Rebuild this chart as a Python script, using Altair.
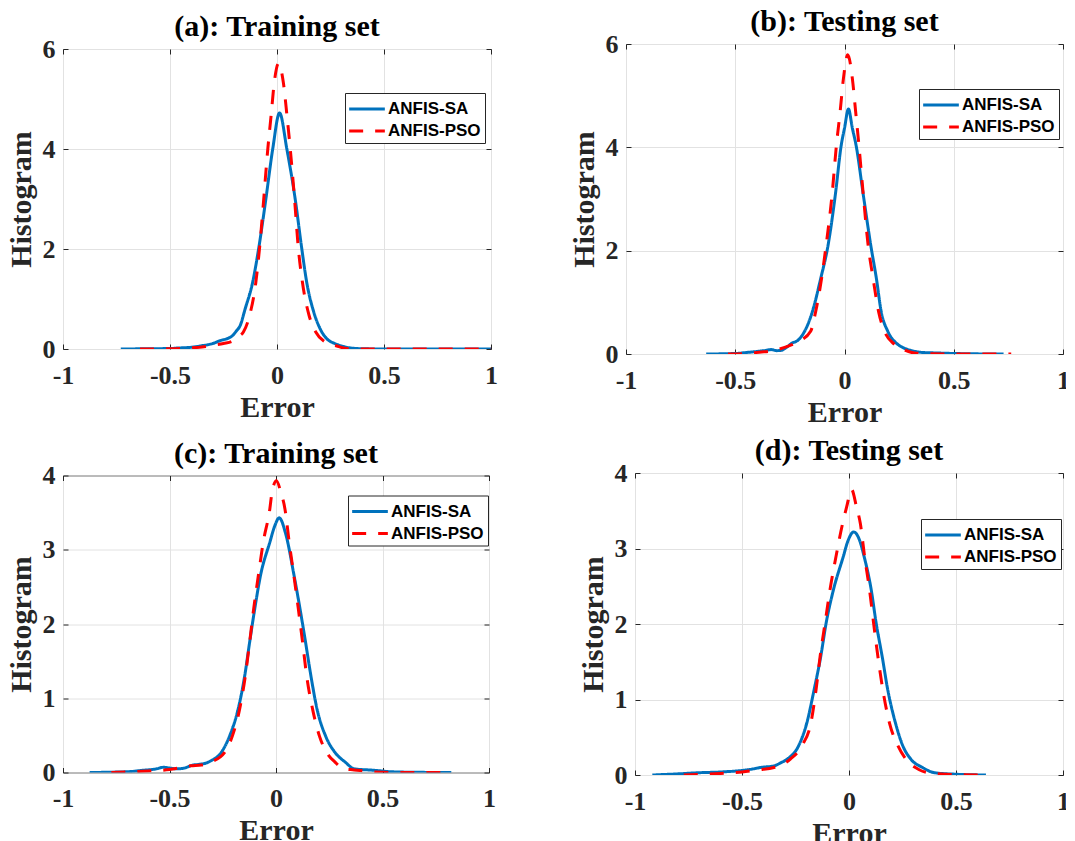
import altair as alt
import pandas as pd

MODELS = ["ANFIS-SA", "ANFIS-PSO"]
COLORS = ["#0072BD", "#FF0000"]
DASHES = [[1, 0], [14, 12]]
TITLES = ["(a): Training set", "(b): Testing set", "(c): Training set", "(d): Testing set"]
X_TICKS = [-1, -0.5, 0, 0.5, 1]
Y_TICKS_TOP = [0, 2, 4, 6]
Y_TICKS_BOTTOM = [0, 1, 2, 3, 4]

# (a) Training set
a_sa = [(-0.73, 0), (-0.6, 0.005), (-0.5, 0.01), (-0.46, 0.02), (-0.39, 0.04), (-0.36, 0.06),
        (-0.3, 0.11), (-0.27, 0.16), (-0.21, 0.26), (-0.19, 0.36), (-0.172, 0.47), (-0.149, 0.8),
        (-0.114, 1.33), (-0.086, 2.0), (-0.052, 3.0), (-0.02, 4.0), (0.012, 4.72),
        (0.046, 4.0), (0.085, 3.0), (0.116, 2.0), (0.139, 1.33), (0.171, 0.75),
        (0.202, 0.4), (0.234, 0.2), (0.27, 0.11), (0.311, 0.05), (0.345, 0.02), (0.4, 0.005),
        (0.5, 0), (0.7, 0), (1.0, 0)]
a_pso = [(-0.64, 0), (-0.5, 0.005), (-0.41, 0.02), (-0.35, 0.04), (-0.305, 0.07), (-0.25, 0.11),
         (-0.203, 0.17), (-0.18, 0.25), (-0.157, 0.34), (-0.128, 0.67), (-0.099, 1.33), (-0.082, 2.0),
         (-0.062, 3.0), (-0.043, 4.0), (-0.028, 4.65), (-0.013, 5.32), (0.007, 5.71), (0.03, 5.32),
         (0.047, 4.65), (0.062, 4.0), (0.082, 3.0), (0.1, 2.0), (0.119, 1.33), (0.15, 0.67),
         (0.181, 0.34), (0.225, 0.14), (0.28, 0.06), (0.31, 0.02), (0.35, 0), (0.6, 0), (1.0, 0)]

# (b) Testing set
b_sa = [(-0.633, 0), (-0.5, 0.01), (-0.447, 0.03), (-0.4, 0.05), (-0.36, 0.07), (-0.335, 0.085),
        (-0.31, 0.065), (-0.29, 0.07), (-0.265, 0.13), (-0.24, 0.21), (-0.215, 0.26), (-0.185, 0.42),
        (-0.147, 0.82), (-0.109, 1.46), (-0.075, 2.11), (-0.042, 3.08), (-0.015, 4.04), (0.0, 4.37),
        (0.018, 4.74), (0.036, 4.37), (0.053, 4.04), (0.086, 3.08), (0.12, 2.11), (0.146, 1.46),
        (0.168, 0.82), (0.198, 0.44), (0.24, 0.2), (0.27, 0.12), (0.304, 0.07), (0.357, 0.03),
        (0.42, 0.02), (0.5, 0.01), (0.6, 0.003), (0.728, 0)]
b_pso = [(-0.533, 0), (-0.45, 0.01), (-0.38, 0.04), (-0.35, 0.05), (-0.312, 0.08), (-0.252, 0.16),
         (-0.207, 0.25), (-0.155, 0.44), (-0.132, 0.82), (-0.105, 1.46), (-0.084, 2.11), (-0.057, 3.08),
         (-0.037, 4.04), (-0.02, 4.69), (-0.005, 5.33), (0.015, 5.79), (0.036, 5.33), (0.051, 4.69),
         (0.066, 4.04), (0.086, 3.08), (0.108, 2.11), (0.131, 1.46), (0.156, 0.82), (0.183, 0.44),
         (0.228, 0.19), (0.273, 0.08), (0.32, 0.02), (0.4, 0.005), (0.5, 0), (0.763, 0)]

# (c) Training set
c_sa = [(-0.875, 0), (-0.7, 0.01), (-0.624, 0.03), (-0.56, 0.05), (-0.529, 0.07), (-0.5, 0.06),
        (-0.47, 0.05), (-0.438, 0.055), (-0.39, 0.1), (-0.36, 0.11), (-0.325, 0.13), (-0.304, 0.16),
        (-0.257, 0.27), (-0.218, 0.49), (-0.178, 0.85), (-0.147, 1.3), (-0.124, 1.75), (-0.1, 2.2),
        (-0.073, 2.65), (-0.029, 3.10), (-0.006, 3.32), (0.015, 3.43), (0.045, 3.22),
        (0.085, 2.65), (0.113, 2.2), (0.139, 1.75), (0.164, 1.3), (0.193, 0.85), (0.233, 0.49),
        (0.277, 0.27), (0.325, 0.14), (0.367, 0.05), (0.46, 0.03), (0.54, 0.01), (0.65, 0.003),
        (0.823, 0)]
c_pso = [(-0.773, 0), (-0.6, 0.02), (-0.5, 0.04), (-0.4, 0.09), (-0.35, 0.1), (-0.306, 0.14),
         (-0.241, 0.27), (-0.205, 0.49), (-0.171, 0.85), (-0.144, 1.3), (-0.124, 1.75), (-0.105, 2.2),
         (-0.083, 2.65), (-0.06, 3.10), (-0.029, 3.55), (-0.019, 3.77), (0.002, 3.93), (0.023, 3.77),
         (0.042, 3.55), (0.062, 3.10), (0.084, 2.65), (0.105, 2.2), (0.125, 1.75), (0.144, 1.3),
         (0.172, 0.85), (0.204, 0.49), (0.238, 0.27), (0.277, 0.14), (0.317, 0.05), (0.367, 0.035),
         (0.45, 0.01), (0.55, 0), (0.823, 0)]

# (d) Testing set
d_sa = [(-0.919, 0), (-0.8, 0.015), (-0.703, 0.03), (-0.6, 0.04), (-0.502, 0.06), (-0.45, 0.08),
        (-0.413, 0.1), (-0.351, 0.12), (-0.32, 0.16), (-0.289, 0.21), (-0.235, 0.39), (-0.197, 0.69),
        (-0.163, 1.13), (-0.132, 1.57), (-0.107, 2.01), (-0.073, 2.45), (-0.027, 2.89), (-0.005, 3.1),
        (0.022, 3.22), (0.048, 3.12), (0.071, 2.89), (0.104, 2.45), (0.127, 2.01), (0.155, 1.57),
        (0.181, 1.13), (0.217, 0.69), (0.251, 0.39), (0.289, 0.21), (0.343, 0.1), (0.4, 0.03),
        (0.5, 0.01), (0.64, 0)]
d_pso = [(-0.772, 0), (-0.6, 0.02), (-0.5, 0.04), (-0.42, 0.07), (-0.351, 0.1), (-0.274, 0.21),
         (-0.22, 0.39), (-0.178, 0.69), (-0.154, 1.13), (-0.135, 1.57), (-0.112, 2.01), (-0.089, 2.45),
         (-0.061, 2.89), (-0.03, 3.33), (-0.011, 3.55), (0.012, 3.78), (0.035, 3.55), (0.053, 3.33),
         (0.073, 2.89), (0.096, 2.45), (0.115, 2.01), (0.135, 1.57), (0.158, 1.13), (0.189, 0.69),
         (0.228, 0.39), (0.266, 0.21), (0.328, 0.07), (0.37, 0.03), (0.45, 0.01), (0.64, 0)]

SERIF = "Liberation Serif"
SANS = "Liberation Sans"
INK = "#262626"
MINUS_FIX = "replace(datum.label, '\u2212', '-')"


def panel(idx, sa, pso, y_ticks, w, h, lx, ly):
    rows = []
    for model, pts in ((MODELS[0], sa), (MODELS[1], pso)):
        for x, y in pts:
            rows.append({"Error": x, "Density": y, "Model": model})
    df = pd.DataFrame(rows)
    leg = dict(
        title=None, orient="none", legendX=lx, legendY=ly, direction="vertical",
        labelFont=SANS, labelFontSize=17, labelFontWeight="bold", labelColor="black",
        symbolType="M-1.7,0H1.7", symbolSize=441, symbolStrokeWidth=3,
        symbolOffset=6, labelOffset=9, rowPadding=2, padding=4,
        strokeColor=INK, fillColor="white",
    )
    base = alt.Chart(df)
    main = base.mark_line(strokeWidth=3, interpolate="monotone", clip=True).encode(
        x=alt.X("Error:Q", scale=alt.Scale(domain=[-1, 1], nice=False),
                axis=alt.Axis(values=X_TICKS, format=".1~f", labelExpr=MINUS_FIX,
                              title="Error", offset=-5, tickSize=5, labelPadding=13,
                              titlePadding=4, labelFlush=False, labelOverlap=False)),
        y=alt.Y("Density:Q", scale=alt.Scale(domain=[y_ticks[0], y_ticks[-1]], nice=False),
                axis=alt.Axis(values=y_ticks, format=".0f", title="Histogram", offset=-5,
                              tickSize=5, labelPadding=8, titlePadding=6,
                              labelFlush=False, labelOverlap=False)),
        color=alt.Color("Model:N", scale=alt.Scale(domain=MODELS, range=COLORS),
                        legend=alt.Legend(**leg)),
        strokeDash=alt.StrokeDash("Model:N", scale=alt.Scale(domain=MODELS, range=DASHES),
                                  legend=alt.Legend(**leg)),
    )
    # invisible copy that only carries the box ticks on the top and right edges
    mirror = base.mark_line(opacity=0, clip=True).encode(
        x=alt.X("Error:Q", axis=alt.Axis(orient="top", values=X_TICKS, labels=False, title=None,
                                         offset=-5, tickSize=5, grid=False, domain=False)),
        y=alt.Y("Density:Q", axis=alt.Axis(orient="right", values=y_ticks, labels=False,
                                           title=None, offset=-5, tickSize=5, grid=False,
                                           domain=False)),
    )
    return alt.layer(
        main, mirror,
        title=alt.Title(TITLES[idx], font=SERIF, fontSize=30, fontWeight="bold",
                        color="black", anchor="middle", frame="group", offset=-6),
    ).resolve_axis(x="independent", y="independent").properties(width=w, height=h)


pa = panel(0, a_sa, a_pso, Y_TICKS_TOP, 428, 300, 282, 44)
pb = panel(1, b_sa, b_pso, Y_TICKS_TOP, 437, 310, 293, 45)
pc = panel(2, c_sa, c_pso, Y_TICKS_BOTTOM, 426, 297, 285, 20)
pd_ = panel(3, d_sa, d_pso, Y_TICKS_BOTTOM, 428, 302, 286, 46)

row1 = alt.hconcat(pa, pb, spacing=135, bounds="flush", center=True).resolve_scale(
    color="independent", strokeDash="independent").resolve_legend(
    color="independent", strokeDash="independent")
row2 = alt.hconcat(pc, pd_, spacing=146, bounds="flush", center=True).resolve_scale(
    color="independent", strokeDash="independent").resolve_legend(
    color="independent", strokeDash="independent")

chart = alt.vconcat(row1, row2, spacing=7).resolve_scale(
    color="independent", strokeDash="independent").resolve_legend(
    color="independent", strokeDash="independent").properties(
    padding={"left": -3, "top": -2, "right": -4, "bottom": 0},
    background="white",
).configure_view(stroke=INK, strokeWidth=1).configure_axis(
    grid=True, gridColor="#e2e2e2", gridWidth=1, domain=False,
    tickColor=INK, tickWidth=1,
    labelFont=SERIF, labelFontSize=26, labelFontWeight="bold", labelColor=INK,
    titleFont=SERIF, titleFontSize=30, titleFontWeight="bold", titleColor=INK,
)

chart.save("out.html", embed_options={"renderer": "svg", "actions": False})
